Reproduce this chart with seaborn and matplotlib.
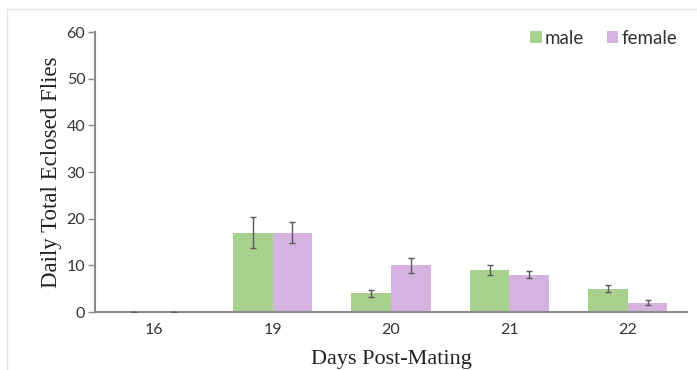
import matplotlib
matplotlib.use("Agg")
import matplotlib.pyplot as plt
from matplotlib.lines import Line2D
import seaborn as sns
import pandas as pd
import numpy as np

days = ["16", "19", "20", "21", "22"]
male = [0, 17, 4, 9, 5]
female = [0, 17, 10, 8, 2]
male_err = [0, 3.3, 0.8, 1.0, 0.7]
female_err = [0, 2.3, 1.6, 0.75, 0.5]
sexes = ["male", "female"]
colors = ["#a9d18e", "#d5b3e0"]

df = pd.DataFrame({
    "day": days * 2,
    "sex": ["male"] * len(days) + ["female"] * len(days),
    "count": male + female,
})
errs = {"male": male_err, "female": female_err}

sns.set_style("white")
W, H = 697, 370
fig = plt.figure(figsize=(W / 100, H / 100), dpi=100)
ax = fig.add_axes([95 / W, 1 - 312 / H, (687 - 95) / W, (312 - 32) / H])

sns.barplot(data=df, x="day", y="count", hue="sex", hue_order=sexes, order=days,
            palette=colors, width=0.67, errorbar=None, ax=ax, linewidth=0, saturation=1)

for cont, sex in zip(ax.containers, sexes):
    xs = [p.get_x() + p.get_width() / 2 for p in cont]
    ys = [p.get_height() for p in cont]
    ax.errorbar(xs, ys, yerr=errs[sex], fmt="none", ecolor="#5a5a5a",
                elinewidth=1.0, capsize=2.5, capthick=1.0, zorder=5)

ax.set_ylim(0, 60)
ax.set_yticks(range(0, 61, 10))
ax.set_xlim(-0.5, 4.5)

tick_font = "Lato"
for lab in ax.get_yticklabels() + ax.get_xticklabels():
    lab.set_fontfamily(tick_font)
    lab.set_fontsize(11.5)
    lab.set_color("#333333")

ax.tick_params(axis="y", length=5, width=1, color="#8c8c8c", pad=2, left=True)
ax.tick_params(axis="x", length=0, pad=8)

for s in ["top", "right"]:
    ax.spines[s].set_visible(False)
for s in ["left", "bottom"]:
    ax.spines[s].set_color("#8c8c8c")
    ax.spines[s].set_linewidth(1.5)

ax.set_ylabel("Daily Total Eclosed Flies", fontfamily="Liberation Serif", fontsize=16.5,
              color="#222222")
ax.yaxis.set_label_coords(-33 / (687 - 95), 0.5)
ax.set_xlabel("Days Post-Mating", fontfamily="Liberation Serif", fontsize=16,
              color="#222222", va="bottom")
ax.xaxis.set_label_coords(0.5, -(369 - 312) / (312 - 32))

leg = fig.legend(handles=ax.get_legend_handles_labels()[0], labels=sexes,
                 loc="upper right", bbox_to_anchor=(677 / W, 1 - 30 / H), ncol=2,
                 frameon=False, borderpad=0, borderaxespad=0,
                 handlelength=0.6, handleheight=0.6, handletextpad=0.15,
                 columnspacing=1.25, prop={"family": tick_font, "size": 13.5})
ax.get_legend().remove()
for t in leg.get_texts():
    t.set_color("#333333")

fig.add_artist(Line2D([7 / W, 1], [1 - 9 / H, 1 - 9 / H], transform=fig.transFigure,
                      color="#e3e3e3", lw=1))
fig.add_artist(Line2D([7 / W, 7 / W], [0, 1 - 9 / H], transform=fig.transFigure,
                      color="#e3e3e3", lw=1))

fig.savefig("out.png", dpi=100)
